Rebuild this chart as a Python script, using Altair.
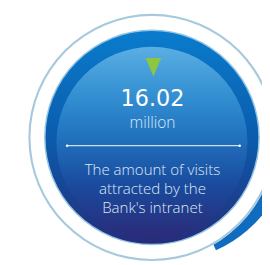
import math
import altair as alt
import pandas as pd

# ---- content ----
value_text = ["16.02"]
unit_text = ["million"]
desc_lines = ["The amount of visits", "attracted by the", "Bank's intranet"]

W, H = 262, 257
CX, CY = 148.5, 129.5
one = pd.DataFrame({"k": [0]})


def grad(stops):
    return alt.LinearGradient(
        gradient="linear",
        stops=[alt.GradientStop(offset=o, color=c) for o, c in stops],
        x1=0, x2=0, y1=0, y2=1,
    )


def arc(r_out, r_in, fill, cx=CX, cy=CY, t1=0.0, t2=2 * math.pi, **kw):
    return alt.Chart(one).mark_arc(
        radius=r_out, radius2=r_in, theta=t1, theta2=t2, fill=fill, **kw
    ).encode(x=alt.value(cx), y=alt.value(cy))


crescent = arc(132, 0, "#0f6cbf", cx=CX + 12, cy=CY - 4, t1=1.55, t2=2.72)
white_cover = arc(127.5, 0, "#ffffff")
ring = arc(127.5, 125.3, "#a7c9dd")
disc = arc(110.5, 0, grad([(0, "#0a7ccc"), (0.5, "#0b5cad"), (1, "#262c7a")]),
           stroke="#93c5e3", strokeWidth=1.5)
inner = arc(98.5, 0, grad([(0, "#5aaee2"), (0.25, "#3490d2"), (0.45, "#2275c0"),
                           (0.72, "#1a4b9e"), (1, "#2a2b78")]), cy=CY + 5)

triangle = alt.Chart(one).mark_point(
    shape="M-1,-1.2L1,-1.2L0,1.2Z", size=256, filled=True,
    fill="#8dc63f", strokeWidth=0, opacity=1,
).encode(x=alt.value(150), y=alt.value(57))

val = alt.Chart(pd.DataFrame({"t": value_text})).mark_text(
    font="DejaVu Sans", fontSize=23, color="#ffffff", baseline="alphabetic", align="center"
).encode(x=alt.value(149), y=alt.value(97), text="t:N")

unit = alt.Chart(pd.DataFrame({"t": unit_text})).mark_text(
    font="Open Sans", fontSize=16, fontWeight=300, color="#dce9f5",
    baseline="alphabetic", align="center"
).encode(x=alt.value(149), y=alt.value(120), text="t:N")

rule = alt.Chart(one).mark_rule(color="#ffffff", strokeWidth=1).encode(
    x=alt.value(61), x2=alt.value(239), y=alt.value(138))
dot_l = alt.Chart(one).mark_circle(size=7, color="#ffffff", opacity=1).encode(
    x=alt.value(61), y=alt.value(138))
dot_r = alt.Chart(one).mark_circle(size=7, color="#ffffff", opacity=1).encode(
    x=alt.value(239), y=alt.value(138))

desc_df = pd.DataFrame({"t": desc_lines, "i": list(range(len(desc_lines)))})
desc = alt.Chart(desc_df).mark_text(
    font="Open Sans", fontSize=15.5, fontWeight=300, color="#dce9f5",
    baseline="alphabetic", align="center"
).encode(
    x=alt.value(149),
    y=alt.Y("i:Q", scale=alt.Scale(domain=[0, 2], range=[168, 207.5]), axis=None),
    text="t:N",
)

chart = alt.layer(
    crescent, white_cover, ring, disc, inner, triangle, val, unit, rule, dot_l, dot_r, desc
).properties(
    width=W, height=H, padding=0, autosize=alt.AutoSizeParams(type="none")
).configure_view(stroke=None)

chart.save("out.html", embed_options={"renderer": "svg", "actions": False})
